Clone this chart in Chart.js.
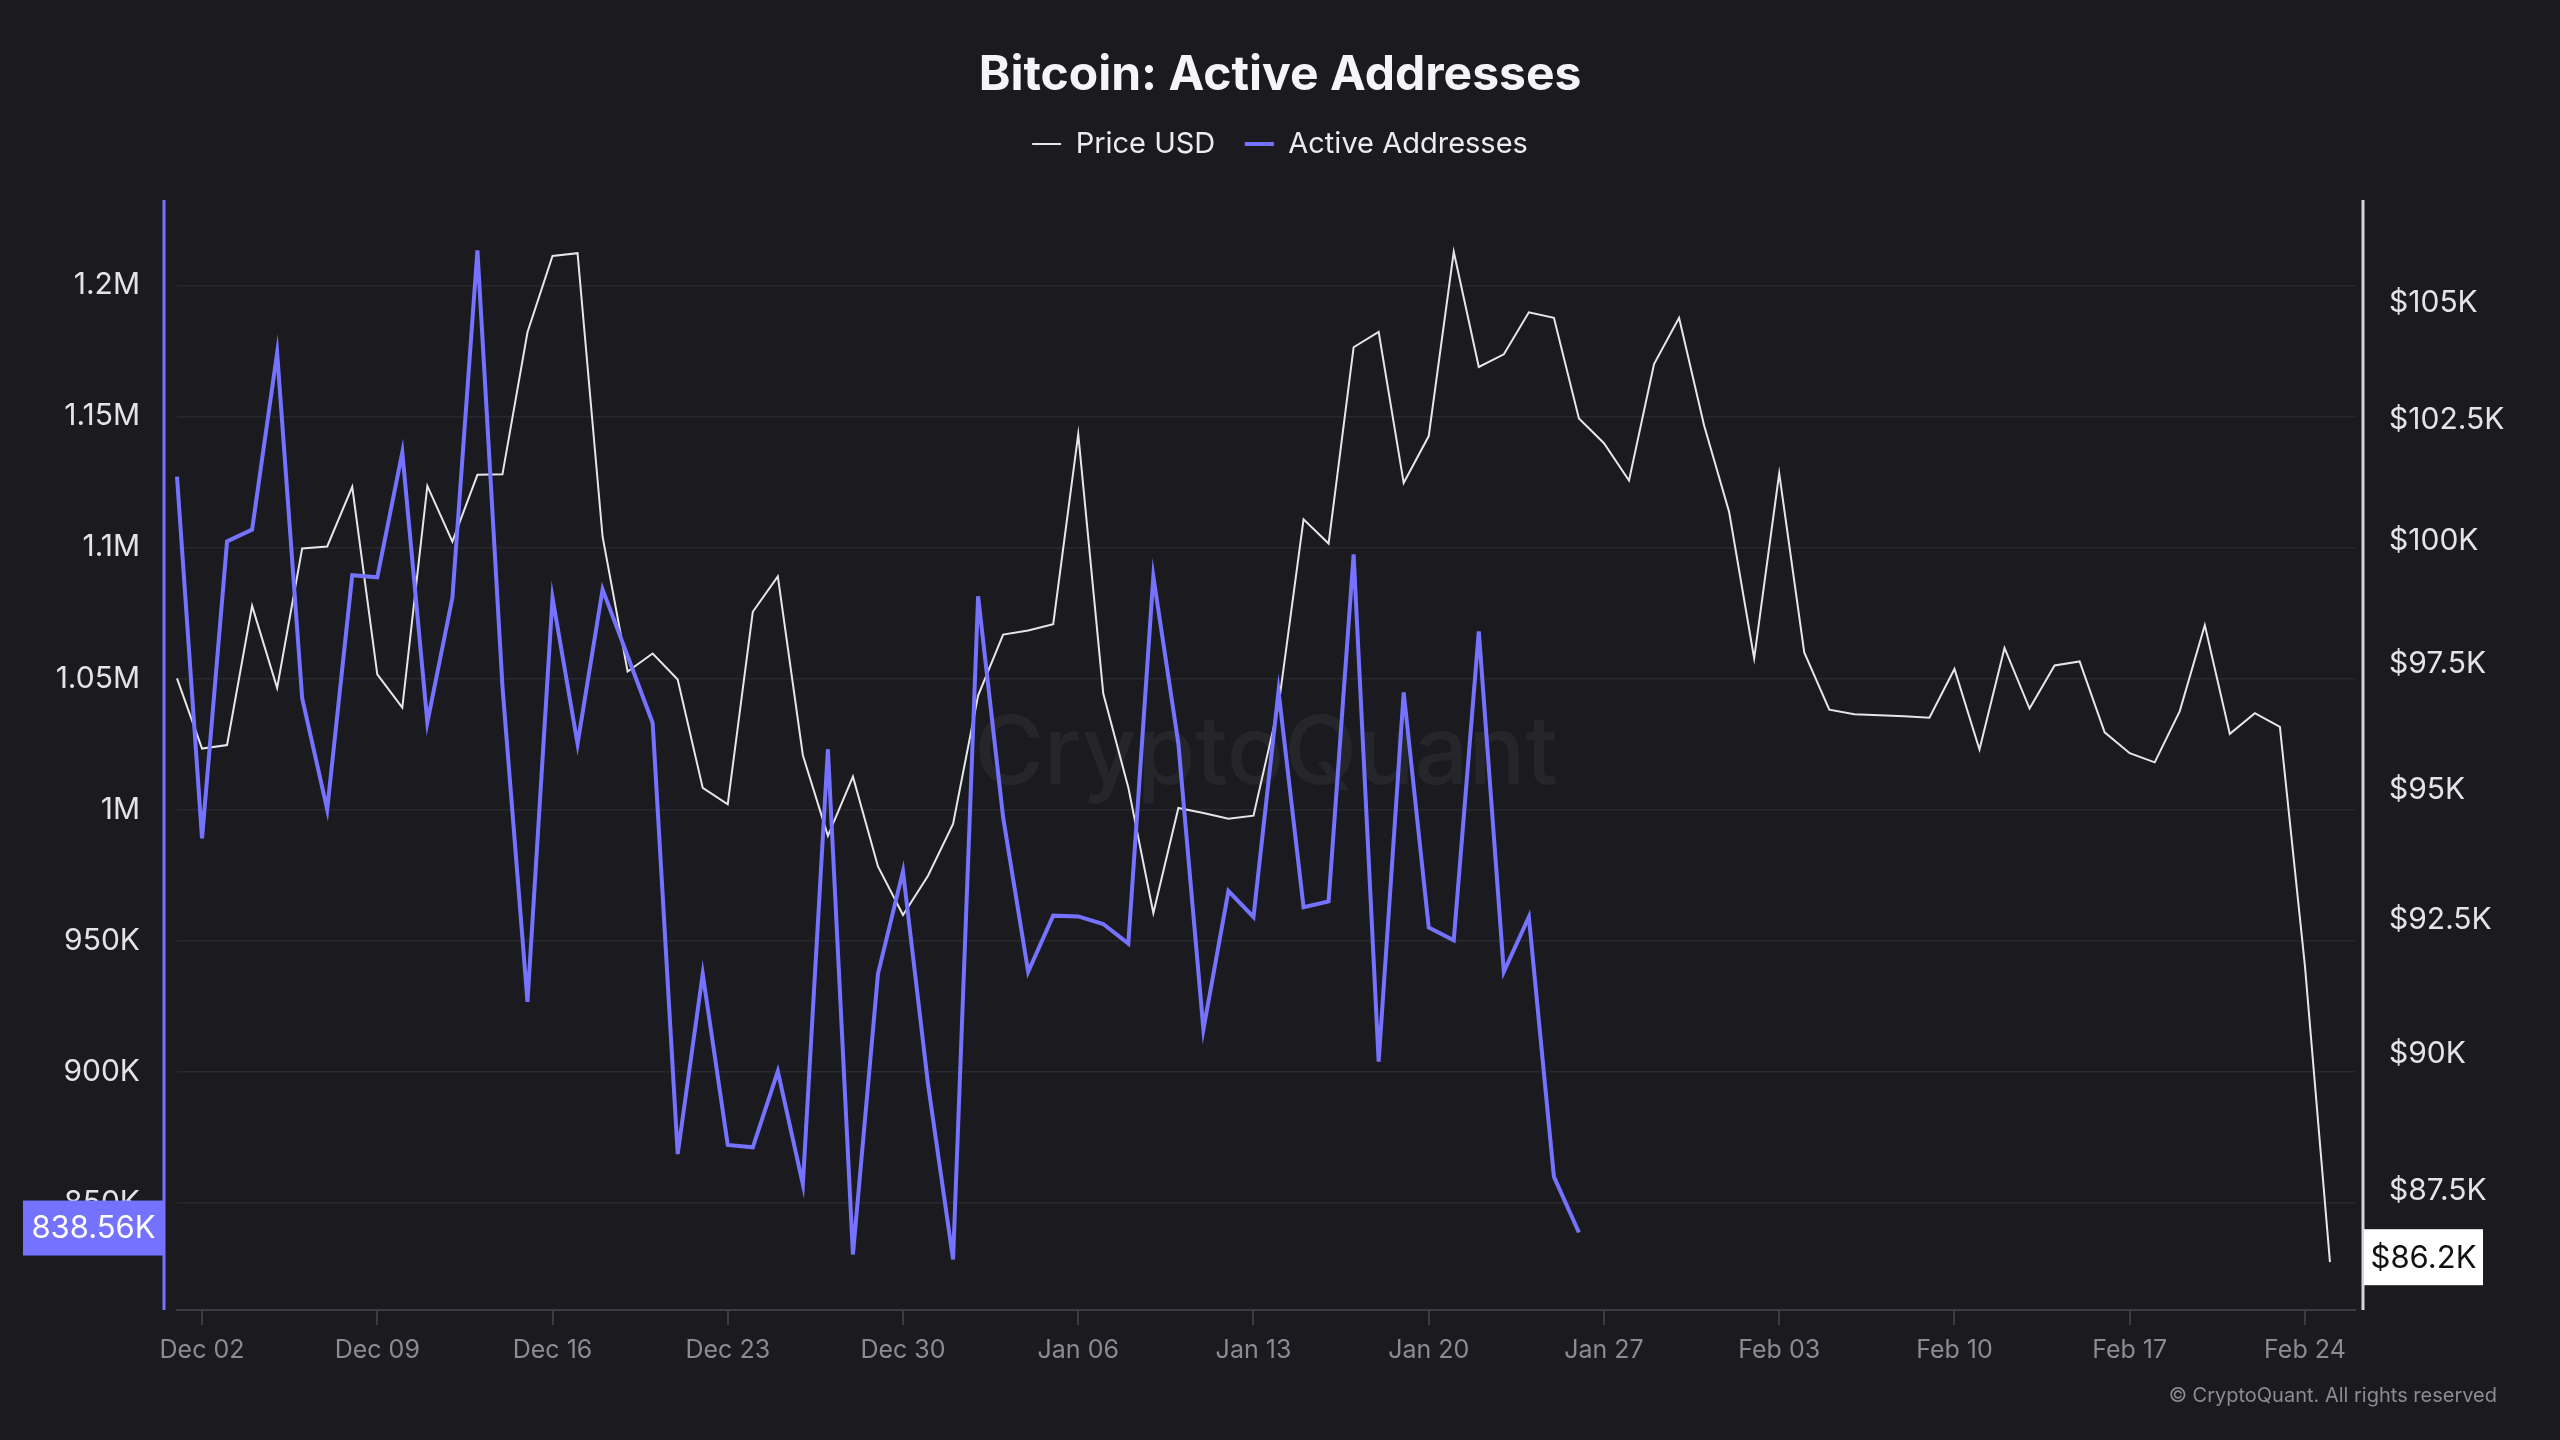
<!DOCTYPE html>
<html>
<head>
<meta charset="utf-8">
<title>Bitcoin: Active Addresses</title>
<script src="https://cdn.jsdelivr.net/npm/chart.js@4.4.1/dist/chart.umd.min.js"></script>
<style>
  html, body { margin: 0; padding: 0; background: #1a1a1f; }
  .wrap { position: relative; width: 2560px; height: 1440px; }
</style>
</head>
<body>
<div class="wrap"><canvas id="chart"></canvas></div>
<script>
// daily labels, Dec 01 .. Feb 26
const dates = [
  'Dec 01','Dec 02','Dec 03','Dec 04','Dec 05','Dec 06','Dec 07','Dec 08','Dec 09','Dec 10',
  'Dec 11','Dec 12','Dec 13','Dec 14','Dec 15','Dec 16','Dec 17','Dec 18','Dec 19','Dec 20',
  'Dec 21','Dec 22','Dec 23','Dec 24','Dec 25','Dec 26','Dec 27','Dec 28','Dec 29','Dec 30','Dec 31',
  'Jan 01','Jan 02','Jan 03','Jan 04','Jan 05','Jan 06','Jan 07','Jan 08','Jan 09','Jan 10',
  'Jan 11','Jan 12','Jan 13','Jan 14','Jan 15','Jan 16','Jan 17','Jan 18','Jan 19','Jan 20',
  'Jan 21','Jan 22','Jan 23','Jan 24','Jan 25','Jan 26','Jan 27','Jan 28','Jan 29','Jan 30','Jan 31',
  'Feb 01','Feb 02','Feb 03','Feb 04','Feb 05','Feb 06','Feb 07','Feb 08','Feb 09','Feb 10',
  'Feb 11','Feb 12','Feb 13','Feb 14','Feb 15','Feb 16','Feb 17','Feb 18','Feb 19','Feb 20',
  'Feb 21','Feb 22','Feb 23','Feb 24','Feb 25','Feb 26'
];

const xTickLabels = ['Dec 02','Dec 09','Dec 16','Dec 23','Dec 30','Jan 06','Jan 13','Jan 20','Jan 27','Feb 03','Feb 10','Feb 17','Feb 24'];

const priceUsd = [
  97210, 95820, 95890, 98670, 97020, 99840, 99880, 101110, 97290, 96630,
  101130, 99980, 101360, 101370, 104370, 106020, 106080, 100080, 97350, 97710,
  97190, 95050, 94730, 98550, 99270, 95690, 94120, 95270, 93530, 92600, 93350,
  94350, 96870, 98090, 98170, 98300, 102210, 96910, 95060, 92640, 94660,
  94560, 94450, 94510, 96660, 100440, 99940, 104050, 104380, 101190, 102170,
  106110, 103630, 103900, 104800, 104680, 102540, 102020, 101240, 103690, 104680, 102390,
  100590, 97610, 101390, 97730, 96590, 96500, 96480, 96460, 96430, 97400,
  95800, 97820, 96610, 97470, 97550, 96140, 95730, 95550, 96560, 98280,
  96110, 96520, 96250, 91640, 86230, null
];

const activeAddresses = [
  1127000, 989000, 1102300, 1106800, 1174300, 1042500, 1000000, 1089400, 1088600, 1136300,
  1033200, 1080800, 1213400, 1047000, 926600, 1080800, 1025100, 1084000, 1058600, 1033000,
  868500, 937300, 872000, 871100, 900100, 857000, 1023000, 830200, 937300, 976400, 895200,
  828300, 1081400, 997000, 938100, 959500, 959200, 956300, 948800, 1088900, 1025100,
  916100, 968900, 959000, 1045200, 962700, 964900, 1097400, 903800, 1044700, 955000,
  950100, 1068000, 938100, 959000, 859900, 838560
];

const activeTicks = [850000, 900000, 950000, 1000000, 1050000, 1100000, 1150000, 1200000];
const priceTicks = [87500, 90000, 92500, 95000, 97500, 100000, 102500, 105000];

const PURPLE = '#7572ff';
const PRICE_COLOR = '#e6e6ea';

document.addEventListener('DOMContentLoaded', () => {
  Chart.defaults.font.family = 'Inter, "Noto Sans", "DejaVu Sans", sans-serif';
  Chart.defaults.color = '#e4e4e7';

  const fmtActive = v => v >= 1e6 ? (v / 1e6) + 'M' : (v / 1000) + 'K';
  const fmtPrice = v => '$' + (v / 1000) + 'K';

  const lastOf = arr => {
    for (let i = arr.length - 1; i >= 0; i--) if (arr[i] != null) return arr[i];
    return null;
  };

  // watermark, side axis lines, last value badges, copyright
  const decorations = {
    id: 'decorations',
    beforeDatasetsDraw(chart) {
      const { ctx, chartArea: a } = chart;
      ctx.save();
      ctx.font = '500 95px Inter, sans-serif';
      ctx.fillStyle = 'rgba(255,255,255,0.05)';
      ctx.textAlign = 'center';
      ctx.textBaseline = 'middle';
      ctx.fillText('CryptoQuant', (a.left + a.right) / 2, (a.top + a.bottom) / 2);
      ctx.restore();
    },
    afterDraw(chart) {
      const { ctx, chartArea: a, scales } = chart;
      ctx.save();
      const lx = a.left - 13;
      const rx = a.right + 8;
      ctx.lineWidth = 3;
      ctx.strokeStyle = PURPLE;
      ctx.beginPath(); ctx.moveTo(lx, a.top); ctx.lineTo(lx, a.bottom); ctx.stroke();
      ctx.strokeStyle = '#d6d6da';
      ctx.beginPath(); ctx.moveTo(rx, a.top); ctx.lineTo(rx, a.bottom); ctx.stroke();

      // last value badges, sitting a little above the value
      const lastActive = lastOf(activeAddresses);
      const ya = scales.yActive.getPixelForValue(lastActive) - 5;
      ctx.fillStyle = PURPLE;
      ctx.fillRect(23, ya - 27, lx - 23 + 1, 55);
      ctx.font = '31px Inter, sans-serif';
      ctx.textAlign = 'center';
      ctx.textBaseline = 'middle';
      ctx.fillStyle = '#ffffff';
      ctx.fillText((lastActive / 1000).toFixed(2) + 'K', (23 + lx) / 2, ya + 1);

      const lastPrice = lastOf(priceUsd);
      const yp = scales.yPrice.getPixelForValue(lastPrice) - 5;
      ctx.fillStyle = '#ffffff';
      ctx.fillRect(rx + 1, yp - 28, 119, 56);
      ctx.fillStyle = '#111114';
      ctx.fillText('$' + (lastPrice / 1000).toFixed(1) + 'K', rx + 1 + 119 / 2, yp + 1);

      ctx.font = '20px Inter, sans-serif';
      ctx.textAlign = 'right';
      ctx.fillStyle = '#8b8b94';
      ctx.fillText('\u00A9 CryptoQuant. All rights reserved', 2497, 1396);
      ctx.restore();
    }
  };

  const ctx = document.getElementById('chart').getContext('2d');
  new Chart(ctx, {
    type: 'line',
    data: {
      labels: dates,
      datasets: [
        { label: 'Price USD', data: priceUsd, yAxisID: 'yPrice', borderColor: PRICE_COLOR, backgroundColor: PRICE_COLOR,
          borderWidth: 2, pointRadius: 0, tension: 0, order: 1 },
        { label: 'Active Addresses', data: activeAddresses, yAxisID: 'yActive', borderColor: PURPLE, backgroundColor: PURPLE,
          borderWidth: 4, pointRadius: 0, tension: 0, order: 0 }
      ]
    },
    options: {
      responsive: true,
      maintainAspectRatio: false,
      animation: false,
      devicePixelRatio: 1,
      layout: { padding: 0 },
      plugins: {
        title: {
          display: true, text: 'Bitcoin: Active Addresses', color: '#f5f5f7',
          font: { size: 48, weight: 'bold', lineHeight: 1 }, padding: { top: 52, bottom: 0 }
        },
        legend: {
          display: true,
          labels: {
            color: '#ececf0', font: { size: 29 }, padding: 29.5,
            usePointStyle: true, pointStyle: 'line', pointStyleWidth: 29,
            sort: (a, b) => a.datasetIndex - b.datasetIndex
          }
        },
        // empty spacer between legend and plot
        subtitle: { display: true, text: '', weight: 500, font: { size: 1, lineHeight: 1 }, padding: { top: 0, bottom: 30.5 } },
        tooltip: { enabled: false }
      },
      scales: {
        x: {
          type: 'category',
          offset: false,
          grid: { display: true, drawOnChartArea: false, drawTicks: true, tickLength: 15, color: '#3c3c44', lineWidth: 2 },
          border: { display: true, color: '#3c3c44', width: 2 },
          ticks: { color: '#8b8b94', font: { size: 25 }, padding: 10, autoSkip: false, maxRotation: 0 },
          afterBuildTicks: s => { s.ticks = s.ticks.filter(t => xTickLabels.includes(dates[t.value])); },
          afterFit: s => { s.height = 130; }
        },
        yActive: {
          type: 'linear', position: 'left',
          min: 809000, max: 1232600,
          grid: { color: '#28282f', lineWidth: 1.5, drawTicks: false },
          border: { display: false },
          ticks: { color: '#e4e4e7', font: { size: 30 }, padding: 37, callback: v => fmtActive(v) },
          afterBuildTicks: s => { s.ticks = activeTicks.map(v => ({ value: v })); },
          afterFit: s => { s.width = 177; }
        },
        yPrice: {
          type: 'logarithmic', position: 'right',
          min: 85388, max: 107244,
          grid: { display: false, drawTicks: false },
          border: { display: false },
          ticks: { color: '#e4e4e7', font: { size: 30 }, padding: 34, callback: v => fmtPrice(v) },
          afterBuildTicks: s => { s.ticks = priceTicks.map(v => ({ value: v })); },
          afterFit: s => { s.width = 205; }
        }
      }
    },
    plugins: [decorations]
  });
});
</script>
</body>
</html>
